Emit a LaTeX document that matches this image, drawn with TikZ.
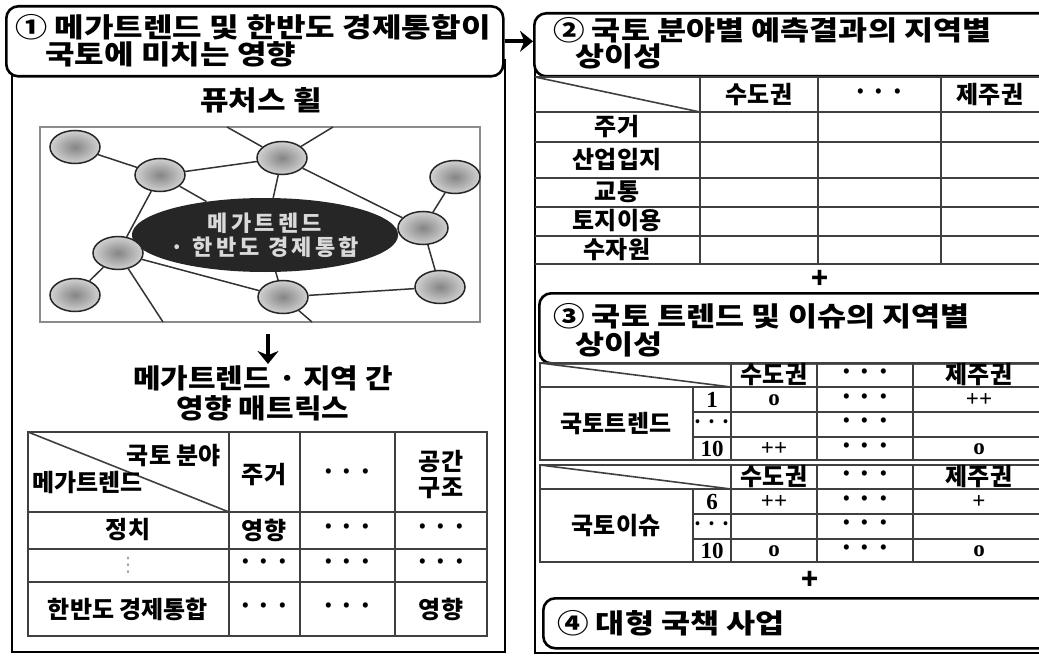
\documentclass[tikz,border=0pt]{standalone}
\usepackage{fontspec}
\usepackage{graphicx}
\setmainfont{Noto Sans CJK KR}
\newfontfamily\numfont{Liberation Serif}
\newfontfamily\symfont{DejaVu Sans}
\usetikzlibrary{shapes.geometric,arrows.meta}
\newcommand{\cdts}{·\,·\,·}
\newcommand{\widen}[2][1.17]{\scalebox{#1}[1]{#2}}
\begin{document}
\begin{tikzpicture}
  [x=1pt,y=-1pt,every node/.style={inner sep=0pt,align=center,font=\bfseries\fontsize{24}{26}\selectfont}]
  \tikzstyle{panel} = [draw,line width=2.6pt,rounded corners=12pt,fill=white,anchor=north west]
  \tikzstyle{headtxt} = [anchor=base west,font=\bfseries\fontsize{27}{27}\selectfont]
  \tikzstyle{bigtxt} = [font=\bfseries\fontsize{27}{30}\selectfont]
  \tikzstyle{bub} = [ellipse,draw=black!85,line width=1.5pt,minimum width=50pt,minimum height=33pt,inner color=black!48,outer color=black!18]
  \tikzstyle{link} = [black!80,line width=1.5pt]
  \tikzstyle{tabline} = [black!75,line width=1.6pt]
  \tikzstyle{num} = [font=\numfont\bfseries\fontsize{23}{23}\selectfont]
  \tikzstyle{arr} = [line width=4pt,-{Stealth[length=13pt,width=21pt]}]
  \useasboundingbox (0,0) rectangle (1039,658);
  \clip (0,0) rectangle (1039,658);

  \draw[line width=2.6pt] (12,60) rectangle (505,652);
  \draw[line width=2.6pt] (535,40) rectangle (1050,653);

  \node[panel,minimum width=497pt,minimum height=70pt] (h1) at (5,5) {};
  \node[panel,minimum width=520pt,minimum height=63pt] (h2) at (533,12) {};
  \node[headtxt] (h1a) at (15,38) {\widen[1.19]{① 메가트렌드 및 한반도 경제통합이}};
  \node[headtxt] (h1b) at (45,65) {\widen[1.19]{국토에 미치는 영향}};
  \node[headtxt] (h2a) at (553,41) {\widen{② 국토 분야별 예측결과의 지역별}};
  \node[headtxt] (h2b) at (575,67) {\widen{상이성}};
  \draw[arr] (h1.east) -- (h1.east -| h2.west);

  % future wheel
  \node[bigtxt] (fw) at (261,100) {\widen[1.15]{퓨처스 휠}};
  \draw[black!45,line width=1.2pt] (40,127) rectangle (480,322);
  \coordinate (t1) at (227,127);
  \coordinate (t2) at (333,127);
  \coordinate (b1) at (163,322);
  \coordinate (b2) at (312,322);
  \node[ellipse,fill=black!85,minimum width=232pt,minimum height=74pt,text=black!15,
        font=\bfseries\fontsize{22}{24}\selectfont\addfontfeature{LetterSpace=15}] (m) at (265,235) {메가트렌드\\· 한반도 경제통합};
  \foreach \n/\x/\y in {a/75/147,b/160/175,c/282/158,d/455/177,e/423/228,f/118/253,g/75/295,h/283/297,i/440/287}
    \node[bub] (\n) at (\x,\y) {};
  \foreach \s/\d in {a/b,b/c,c/t1,c/t2,c/e,c/m,b/m,b/f,f/g,f/m,f/h,f/b1,h/m,h/i,h/b2,e/d,e/i,e/m}
    \draw[link] (\s) -- (\d);

  \coordinate (d1) at (268,334);
  \coordinate (d2) at (268,364);
  \draw[arr] (d1) -- (d2);
  \node[bigtxt] (mta) at (263,378) {\widen[1.11]{메가트렌드 · 지역 간}};
  \node[bigtxt] (mtb) at (263,408) {\widen[1.11]{영향 매트릭스}};

  % impact matrix
  \draw[tabline] (28,432) rectangle (487,636);
  \foreach \x in {229,300,395} \draw[tabline] (\x,432) -- (\x,636);
  \foreach \y in {512,549,582} \draw[tabline] (28,\y) -- (487,\y);
  \draw[tabline] (28,432) -- (229,512);
  \node[anchor=east] (m1) at (221,456) {국토 분야};
  \node[anchor=west] (m2) at (32,482) {메가트렌드};
  \node[text=black!35,font=\symfont\fontsize{20}{20}\selectfont] (m3) at (128,565) {⋮};
  \foreach \n/\x/\y/\txt in {m4/264/475/주거,m5/347/475/\cdts,m6/441/475/공간\\구조,
      m7/128/530/정치,m8/264/530/영향,m9/347/530/\cdts,m10/441/530/\cdts,
      m11/264/565/\cdts,m12/347/565/\cdts,m13/441/565/\cdts,
      m14/128/609/한반도 경제통합,m15/264/609/\cdts,m16/347/609/\cdts,m17/441/609/영향}
    \node (\n) at (\x,\y) {\txt};

  % regional results
  \draw[tabline] (535,77) -- (1050,77);
  \foreach \y in {112,142,178,207,236,264} \draw[tabline] (535,\y) -- (1050,\y);
  \foreach \x in {700,818,941} \draw[tabline] (\x,77) -- (\x,264);
  \draw[tabline] (535,77) -- (700,112);
  \foreach \n/\x/\y/\txt in {r1/759/95/수도권,r2/879/95/\cdts,r3/990/95/제주권,
      r4/617/127/주거,r5/617/160/산업입지,r6/617/192/교통,r7/617/221/토지이용,r8/617/250/수자원}
    \node (\n) at (\x,\y) {\txt};
  \node[font=\bfseries\fontsize{28}{28}\selectfont] (p1) at (820,279) {+};

  \node[panel,minimum width=520pt,minimum height=70pt] (h3) at (538,292) {};
  \node[headtxt] (h3a) at (553,326) {\widen{③ 국토 트렌드 및 이슈의 지역별}};
  \node[headtxt] (h3b) at (575,354) {\widen{상이성}};

  % trends and issues
  \foreach \o/\lab/\na/\ra/\rb/\rc/\rd in {0/국토트렌드/1/o/++/++/o,102/국토이슈/6/++/+/o/o}{
    \draw[tabline] (540,363+\o) rectangle (1050,460+\o);
    \draw[tabline] (540,387+\o) -- (1050,387+\o);
    \foreach \y in {412,437} \draw[tabline] (693,\y+\o) -- (1050,\y+\o);
    \draw[tabline] (693,387+\o) -- (693,460+\o);
    \foreach \x in {731,817,913} \draw[tabline] (\x,363+\o) -- (\x,460+\o);
    \draw[tabline] (540,363+\o) -- (731,387+\o);
    \node (k\o) at (774,375+\o) {수도권};
    \node (l\o) at (865,375+\o) {\cdts};
    \node (j\o) at (979,375+\o) {제주권};
    \node (lab\o) at (616,424+\o) {\lab};
    \node[num] (na\o) at (712,400+\o) {\na};
    \node[font=\bfseries\fontsize{18}{18}\selectfont] (nb\o) at (712,424+\o) {\cdts};
    \node[num] (nc\o) at (712,449+\o) {10};
    \node[num] (ra\o) at (774,400+\o) {\ra};
    \node[num] (rb\o) at (979,400+\o) {\rb};
    \node[num] (rc\o) at (774,449+\o) {\rc};
    \node[num] (rd\o) at (979,449+\o) {\rd};
    \foreach \y in {400,424,449} \node (dt\o\y) at (865,\y+\o) {\cdts};
  }
  \node[font=\bfseries\fontsize{28}{28}\selectfont] (p2) at (810,580) {+};

  \node[panel,minimum width=520pt,minimum height=50pt] (h4) at (542,597) {};
  \node[headtxt] (h4a) at (557,633) {\widen{④ 대형 국책 사업}};
\end{tikzpicture}
\end{document}
